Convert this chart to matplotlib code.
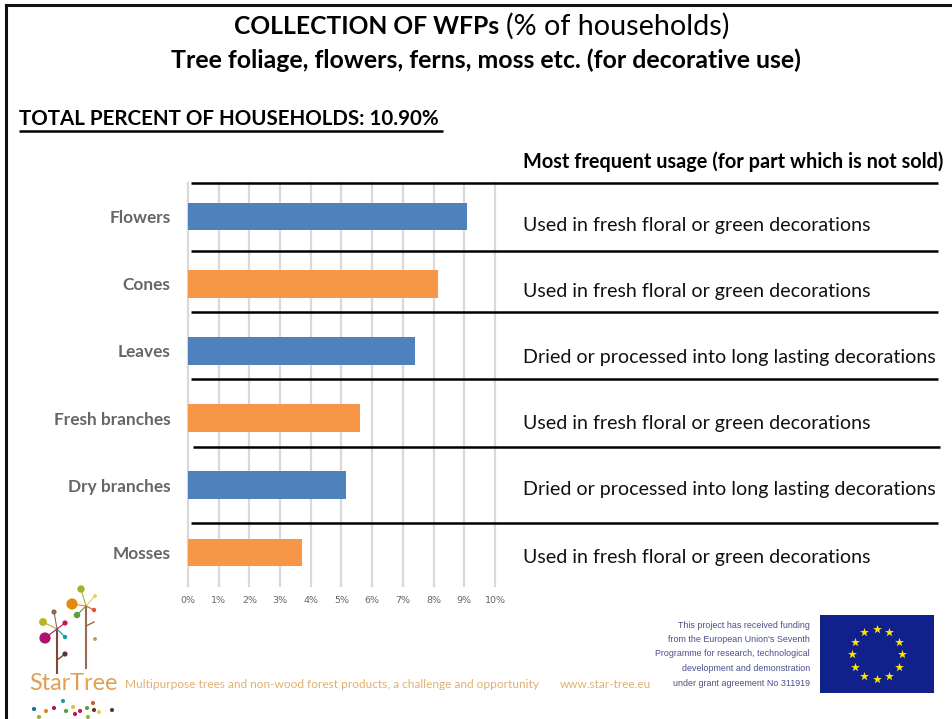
import numpy as np
import matplotlib
matplotlib.use("Agg")
import matplotlib.pyplot as plt
from matplotlib.patches import Rectangle

W, H = 953, 719

kategori = ["Flowers", "Cones", "Leaves", "Fresh branches", "Dry branches", "Mosses"]
nilai = [9.08, 8.15, 7.4, 5.6, 5.15, 3.7]
warna = ["#4F81BD", "#F79646", "#4F81BD", "#F79646", "#4F81BD", "#F79646"]
ticks = list(range(0, 11))
pemakaian = [
    "Used in fresh floral or green decorations",
    "Used in fresh floral or green decorations",
    "Dried or processed into long lasting decorations",
    "Used in fresh floral or green decorations",
    "Dried or processed into long lasting decorations",
    "Used in fresh floral or green decorations",
]
pemakaian_y = [225, 291, 357, 424, 490, 557]
garis_hitam = [(191, 938, 183), (191, 938, 251), (191, 938, 312), (191, 938, 379), (193, 940, 447), (191, 938, 523)]

plt.rcParams["font.family"] = ["Lato", "DejaVu Sans"]
fig = plt.figure(figsize=(W / 100, H / 100), dpi=100)

# bar chart, placed in pixel position
x0, x1 = 188, 495
y0, y1 = 183, 586
ax = fig.add_axes([x0 / W, 1 - y1 / H, (x1 - x0) / W, (y1 - y0) / H])
ypos = np.arange(len(kategori))
ax.barh(ypos, nilai, height=0.41, color=warna, zorder=3)
ax.set_xlim(0, 10)
ax.set_ylim(len(kategori) - 0.5, -0.5)
ax.set_yticks(ypos)
ax.set_yticklabels(kategori, fontsize=12.4, fontweight="bold", color="#666666")
ax.set_xticks(ticks)
ax.set_xticklabels([f"{t}%" for t in ticks], fontsize=6.8, color="#666666", family="DejaVu Sans")
ax.tick_params(axis="both", length=0)
ax.tick_params(axis="y", pad=12.5)
ax.tick_params(axis="x", pad=7)
ax.grid(axis="x", color="#D9D9D9", lw=1.6, zorder=0)
for g in ax.get_xgridlines():
    g.set_clip_on(False)
for s in ax.spines.values():
    s.set_visible(False)

# overlay in pixel coords for slide furniture
ov = fig.add_axes([0, 0, 1, 1], facecolor="none")
ov.set_xlim(0, W)
ov.set_ylim(H, 0)
ov.axis("off")

# slide frame
ov.plot([6.5, 6.5], [5, H], color="#111111", lw=2.2)
ov.plot([6.5, W], [5, 5], color="#111111", lw=2.2)

ov.text(234, 26, "COLLECTION OF WFPs", fontsize=17.7, fontweight="bold", va="center")
ov.text(506, 26, "(% of households)", fontsize=20.7, va="center")
ov.text(486, 60, "Tree foliage, flowers, ferns, moss etc. (for decorative use)", fontsize=17.9,
        fontweight="bold", ha="center", va="center")
ov.text(19, 119, "TOTAL PERCENT OF HOUSEHOLDS: 10.90%", fontsize=14.72, fontweight="bold", va="center")
ov.plot([19, 443], [131, 131], color="black", lw=1.8, solid_capstyle="butt")
ov.text(523, 162, "Most frequent usage (for part which is not sold)", fontsize=14.3, fontweight="bold", va="center")

for a, b, y in garis_hitam:
    ov.plot([a, b], [y, y], color="black", lw=1.8, zorder=5, solid_capstyle="butt")
for t, y in zip(pemakaian, pemakaian_y):
    ov.text(523, y, t, fontsize=14.15, color="#111111", va="center")

# StarTree logo
ov.plot([57, 57], [673, 629], color="#7A4A32", lw=1.5)
ov.plot([86, 86], [668, 606], color="#9A6A4A", lw=1.5)
ov.plot([57, 65], [660, 654], color="#7A4A32", lw=1)
ov.plot([86, 94], [626, 622], color="#9A6A4A", lw=1)
kiri_x = [45, 43, 54, 65, 65]
kiri_y = [638, 622, 612, 637, 623]
kiri_c = ["#B0126B", "#B7B41E", "#8A6A50", "#1D9C9C", "#C0185A"]
kiri_s = [65, 32, 14, 10, 14]
kanan_x = [72, 81, 77, 95, 94]
kanan_y = [604, 589, 615, 596, 610]
kanan_c = ["#E08A10", "#9DB52A", "#5E9E3A", "#E5D060", "#D9552A"]
kanan_s = [65, 28, 22, 8, 10]
for x, y, c in zip(kiri_x, kiri_y, kiri_c):
    ov.plot([57, x], [629, y], color=c, lw=0.8)
for x, y, c in zip(kanan_x, kanan_y, kanan_c):
    ov.plot([86, x], [606, y], color=c, lw=0.8)
ov.scatter(kiri_x, kiri_y, s=kiri_s, c=kiri_c, linewidths=0, zorder=3)
ov.scatter(kanan_x, kanan_y, s=kanan_s, c=kanan_c, linewidths=0, zorder=3)
ov.scatter([65, 95], [654, 639], s=[14, 8], c=["#5A3A30", "#C89A50"], linewidths=0, zorder=3)
punt_x = [34, 39, 46, 54, 63, 66, 73, 75, 80, 87, 88, 93, 94, 99, 112]
punt_y = [709, 717, 711, 708, 701, 711, 707, 714, 711, 708, 717, 703, 710, 712, 710]
punt_c = ["#1D6C9C", "#9DB52A", "#E08A10", "#B0126B", "#1D9C9C", "#5E9E3A", "#E5C040", "#C0185A",
          "#C0185A", "#5E9E3A", "#9DB52A", "#D9552A", "#5A3A30", "#E5D060", "#5A3A30"]
ov.scatter(punt_x, punt_y, s=9, c=punt_c, linewidths=0)
ov.text(29, 684, "StarTree", fontsize=16.8, color="#E0A050", va="center")

ov.text(125, 684, "Multipurpose trees and non-wood forest products, a challenge and opportunity",
        fontsize=8.6, color="#E2B070", va="center")
ov.text(560, 684, "www.star-tree.eu", fontsize=8.45, color="#E2B070", va="center")

# EU funding note
catatan = ["This project has received funding", "from the European Union's Seventh",
           "Programme for research, technological", "development and demonstration",
           "under grant agreement No 311919"]
for i, t in enumerate(catatan):
    ov.text(810, 625 + i * 14.5, t, fontsize=6.4, color="#4A4F8A", ha="right", va="center",
            family="Liberation Sans")

ov.add_patch(Rectangle((820, 615), 114, 78, facecolor="#10218B", edgecolor="none"))
sudut = np.deg2rad(np.arange(0, 360, 30))
ov.scatter(877 + 25 * np.cos(sudut), 654 + 25 * np.sin(sudut), marker="*", s=45, color="#FFE600", linewidths=0)

fig.savefig("out.png", dpi=100)
